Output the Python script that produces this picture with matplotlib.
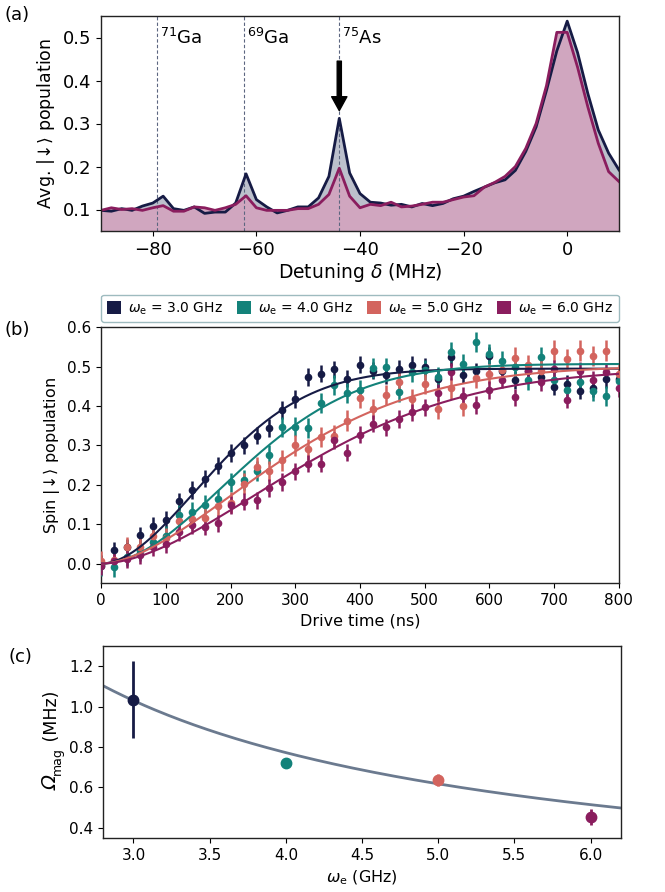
import numpy as np
import matplotlib
matplotlib.use('Agg')
import matplotlib.pyplot as plt
from matplotlib.patches import Patch

# ---------------- panel (a) data ----------------
detuning = list(range(-90, 11, 2))
pop_ref = [0.098, 0.096, 0.102, 0.098, 0.108, 0.115, 0.131, 0.102, 0.098, 0.106,
           0.091, 0.094, 0.094, 0.115, 0.183, 0.123, 0.106, 0.092, 0.098, 0.106,
           0.106, 0.127, 0.177, 0.312, 0.185, 0.137, 0.117, 0.115, 0.110, 0.112,
           0.106, 0.114, 0.109, 0.114, 0.125, 0.131, 0.142, 0.152, 0.162, 0.169,
           0.191, 0.235, 0.292, 0.377, 0.469, 0.538, 0.465, 0.369, 0.285, 0.231,
           0.192]
pop_pump = [0.098, 0.104, 0.100, 0.102, 0.098, 0.104, 0.109, 0.096, 0.096, 0.106,
            0.104, 0.098, 0.104, 0.112, 0.132, 0.104, 0.098, 0.098, 0.098, 0.102,
            0.102, 0.112, 0.135, 0.196, 0.131, 0.104, 0.112, 0.109, 0.117, 0.106,
            0.108, 0.112, 0.117, 0.117, 0.123, 0.129, 0.132, 0.152, 0.163, 0.177,
            0.200, 0.242, 0.300, 0.388, 0.512, 0.512, 0.431, 0.338, 0.254, 0.188,
            0.165]
nuclei_labels = [r'$^{71}$Ga', r'$^{69}$Ga', r'$^{75}$As']
nuclei_pos = [-79.1, -62.3, -44.0]

# ---------------- panel (b) data ----------------
drive_time = list(range(0, 801, 20))
pop_w3 = [0.000, 0.034, 0.041, 0.072, 0.096, 0.111, 0.158, 0.187, 0.216, 0.249,
          0.281, 0.300, 0.325, 0.344, 0.390, 0.418, 0.474, 0.482, 0.493, 0.470,
          0.505, 0.490, 0.478, 0.494, 0.504, 0.499, 0.469, 0.525, 0.480, 0.488,
          0.528, 0.490, 0.466, 0.488, 0.474, 0.449, 0.457, 0.439, 0.445, 0.469,
          0.470]
pop_w4 = [-0.006, -0.008, 0.018, 0.031, 0.056, 0.070, 0.123, 0.132, 0.150, 0.163,
          0.206, 0.212, 0.235, 0.277, 0.346, 0.348, 0.345, 0.407, 0.454, 0.434,
          0.440, 0.497, 0.498, 0.436, 0.487, 0.491, 0.474, 0.537, 0.506, 0.562,
          0.533, 0.514, 0.500, 0.465, 0.525, 0.465, 0.440, 0.461, 0.439, 0.426,
          0.463]
pop_w5 = [0.006, 0.010, 0.042, 0.042, 0.069, 0.065, 0.107, 0.112, 0.115, 0.146,
          0.155, 0.203, 0.245, 0.235, 0.262, 0.300, 0.290, 0.321, 0.325, 0.363,
          0.420, 0.392, 0.428, 0.462, 0.417, 0.456, 0.392, 0.445, 0.401, 0.471,
          0.481, 0.491, 0.523, 0.504, 0.490, 0.541, 0.519, 0.541, 0.527, 0.541,
          0.482]
pop_w6 = [-0.007, 0.007, 0.012, 0.022, 0.042, 0.050, 0.079, 0.098, 0.094, 0.102,
          0.149, 0.157, 0.161, 0.192, 0.207, 0.234, 0.254, 0.254, 0.313, 0.282,
          0.327, 0.355, 0.346, 0.367, 0.384, 0.397, 0.434, 0.487, 0.426, 0.403,
          0.441, 0.467, 0.422, 0.488, 0.460, 0.494, 0.416, 0.489, 0.467, 0.487,
          0.445]
series_labels = [r'$\omega_\mathrm{e}$ = 3.0 GHz', r'$\omega_\mathrm{e}$ = 4.0 GHz',
                 r'$\omega_\mathrm{e}$ = 5.0 GHz', r'$\omega_\mathrm{e}$ = 6.0 GHz']
series_err = [0.022, 0.025, 0.026, 0.022]
# fit parameters: plateau, time constant (ns), exponent
fit_plateau = [0.495, 0.507, 0.502, 0.495]
fit_tau = [220, 274, 333, 383]
fit_exp = [1.85, 1.9, 1.7, 1.75]

# ---------------- panel (c) data ----------------
omega_e = [3.0, 4.0, 5.0, 6.0]
omega_mag = [1.035, 0.720, 0.638, 0.455]
omega_mag_err = [0.19, 0.012, 0.03, 0.04]
fit_c_coeff = 3.09  # Omega = coeff / omega_e

colors = ['#161b45', '#13827a', '#d3645e', '#8a1d5e']
c_ref = '#161b45'
c_pump = '#8a1d5e'

W, H = 665, 892
fig = plt.figure(figsize=(W / 100, H / 100), dpi=100)


def rect(l, t, r, b):
    return [l / W, 1 - b / H, (r - l) / W, (b - t) / H]


def style(ax):
    for s in ax.spines.values():
        s.set_color('#222222')
        s.set_linewidth(1.0)


# ---------------- (a) ----------------
ax1 = fig.add_axes(rect(101, 16, 619, 231))
ax1.fill_between(detuning, pop_ref, 0, color='#bcc0cc', lw=0)
ax1.fill_between(detuning, pop_pump, 0, color='#d0a6bf', lw=0)
for xp in nuclei_pos:
    ax1.axvline(xp, color='#5c6680', lw=0.8, ls=(0, (3, 2)))
ax1.plot(detuning, pop_ref, color=c_ref, lw=2.0)
ax1.plot(detuning, pop_pump, color=c_pump, lw=2.0)
for lab, xp in zip(nuclei_labels, nuclei_pos):
    ax1.text(xp + 0.5, 0.50, lab, fontsize=13, va='center', ha='left')
ax1.annotate('', xy=(nuclei_pos[2], 0.33), xytext=(nuclei_pos[2], 0.445),
             arrowprops=dict(facecolor='black', edgecolor='black', width=3,
                             headwidth=11, headlength=10, shrink=0))
ax1.set_xlim(-90, 10)
ax1.set_ylim(0.05, 0.55)
ax1.set_xticks([-80, -60, -40, -20, 0])
ax1.set_yticks([0.1, 0.2, 0.3, 0.4, 0.5])
ax1.tick_params(labelsize=13)
ax1.set_xlabel(r'Detuning $\delta$ (MHz)', fontsize=13.5, labelpad=2)
ax1.set_ylabel(r'Avg. $|\!\downarrow\!\rangle$ population', fontsize=12.5)
style(ax1)

# ---------------- (b) ----------------
ax2 = fig.add_axes(rect(101.3, 327.3, 618.7, 583.3))
tt = np.linspace(0, 800, 400)
for ys, col, err in zip([pop_w3, pop_w4, pop_w5, pop_w6], colors, series_err):
    ax2.errorbar(drive_time, ys, yerr=err, fmt='o', color=col, ms=4.5,
                 elinewidth=1.8, capsize=0, zorder=3)
for col, A, tau, n in zip(colors, fit_plateau, fit_tau, fit_exp):
    ax2.plot(tt, A * (1 - np.exp(-(tt / tau) ** n)), color=col, lw=1.5, zorder=4)
ax2.set_xlim(0, 800)
ax2.set_ylim(-0.05, 0.6)
ax2.set_xticks(range(0, 801, 100))
ax2.set_yticks([0.0, 0.1, 0.2, 0.3, 0.4, 0.5, 0.6])
ax2.tick_params(labelsize=11)
ax2.set_xlabel('Drive time (ns)', fontsize=11.5)
ax2.set_ylabel(r'Spin $|\!\downarrow\!\rangle$ population', fontsize=11.5)
handles = [Patch(facecolor=c, edgecolor='none') for c in colors]
leg = ax2.legend(handles, series_labels, loc='lower left',
                 bbox_to_anchor=(0.0, 1.02, 1.0, 0.1), mode='expand', ncol=4,
                 borderaxespad=0, fontsize=10, handlelength=1.0, handleheight=1.0,
                 handletextpad=0.5, columnspacing=1.0, fancybox=True,
                 frameon=True)
leg.get_frame().set_edgecolor('#86aab0')
leg.get_frame().set_linewidth(1.0)
style(ax2)

# ---------------- (c) ----------------
ax3 = fig.add_axes(rect(103, 646, 621, 838))
wc = np.linspace(2.8, 6.2, 200)
ax3.plot(wc, fit_c_coeff / wc, color='#6b7a8f', lw=2, zorder=2)
for x, y, e, col in zip(omega_e, omega_mag, omega_mag_err, colors):
    ax3.errorbar([x], [y], yerr=[e], fmt='o', color=col, ms=7.5, elinewidth=2,
                 capsize=0, zorder=3)
ax3.set_xlim(2.8, 6.2)
ax3.set_ylim(0.35, 1.3)
ax3.set_xticks([3.0, 3.5, 4.0, 4.5, 5.0, 5.5, 6.0])
ax3.set_yticks([0.4, 0.6, 0.8, 1.0, 1.2])
ax3.tick_params(labelsize=11)
ax3.set_xlabel(r'$\omega_\mathrm{e}$ (GHz)', fontsize=11.5)
style(ax3)

# y label of (c) with an italic capital Omega, built from rotated pieces
fig.canvas.draw()
ren = fig.canvas.get_renderer()
pieces = [('Ω', 14, 'italic', 0.0), ('mag', 9, 'normal', 3.5),
          (' (MHz)', 12.5, 'normal', 0.0)]
ytexts = []
for s, fs, st, dx in pieces:
    t = fig.text(0, 0, s, fontsize=fs, fontstyle=st, rotation=90,
                 rotation_mode='anchor', ha='left', va='baseline')
    ytexts.append(t)
lengths = [t.get_window_extent(ren).height for t in ytexts]
x_base = 57.0
y_cur = 152.0 - sum(lengths) / 2.0
for t, (s, fs, st, dx), L in zip(ytexts, pieces, lengths):
    t.set_position(((x_base + dx) / W, y_cur / H))
    y_cur += L

# panel letters
fig.text(5 / W, 1 - 15 / H, '(a)', fontsize=13, va='center', ha='left')
fig.text(5 / W, 1 - 330 / H, '(b)', fontsize=13, va='center', ha='left')
fig.text(8 / W, 1 - 657 / H, '(c)', fontsize=13, va='center', ha='left')

fig.savefig('out.png', dpi=100)
